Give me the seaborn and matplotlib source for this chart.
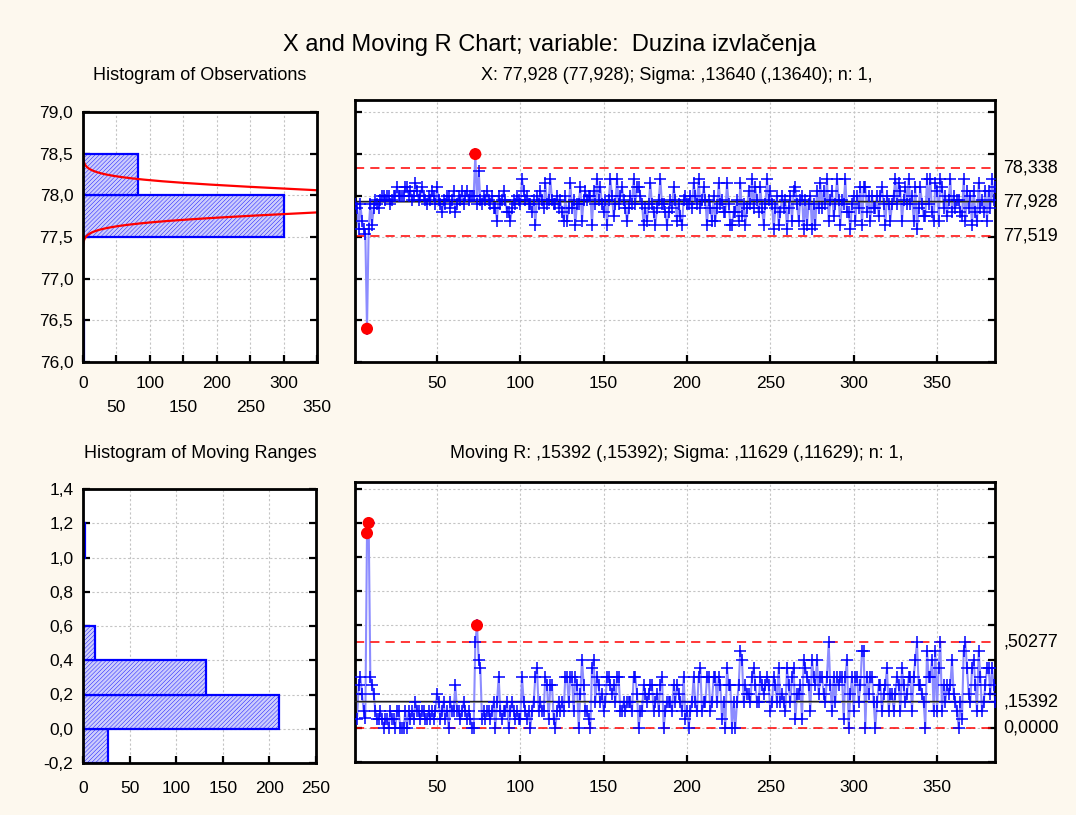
import numpy as np
import pandas as pd
import matplotlib
matplotlib.use("Agg")
import matplotlib.pyplot as plt
import matplotlib.transforms as mtransforms
from matplotlib.ticker import MultipleLocator, FixedLocator, FuncFormatter
import seaborn as sns

# Individual observations of "Duzina izvlačenja", in sample order
duzina_izvlacenja = [
    77.90, 77.85, 77.60, 77.90, 77.70, 77.60, 77.54, 76.40, 77.60, 77.90,
    77.65, 77.85, 77.95, 77.90, 77.85, 77.95, 78.00, 78.00, 77.95, 78.00,
    78.00, 77.90, 77.95, 78.00, 78.00, 78.10, 78.00, 78.00, 78.00, 78.00,
    78.10, 78.10, 78.00, 78.05, 77.95, 78.00, 78.15, 78.05, 77.95, 78.00,
    78.10, 78.00, 77.95, 77.90, 78.00, 77.95, 78.05, 78.00, 77.90, 78.10,
    77.95, 77.90, 77.80, 77.95, 77.90, 78.00, 78.00, 77.85, 77.95, 78.05,
    77.80, 77.90, 78.00, 77.95, 78.05, 77.90, 78.00, 78.05, 77.95, 78.00,
    78.00, 78.00, 78.50, 77.90, 78.30, 77.95, 77.90, 78.00, 77.95, 78.05,
    77.95, 77.90, 78.00, 77.85, 77.85, 77.70, 78.00, 77.90, 77.95, 78.05,
    77.95, 77.80, 77.80, 77.70, 77.85, 77.95, 77.90, 78.00, 77.95, 77.90,
    78.20, 78.05, 77.95, 78.00, 77.90, 77.90, 77.80, 77.95, 77.65, 78.00,
    77.90, 78.05, 77.95, 77.85, 78.15, 77.90, 77.95, 78.20, 77.95, 77.90,
    77.90, 78.00, 77.85, 77.95, 77.80, 77.70, 78.00, 77.70, 77.85, 78.15,
    77.85, 77.95, 77.65, 77.90, 77.90, 78.10, 77.70, 77.95, 78.05, 77.95,
    78.00, 78.00, 77.65, 78.05, 77.90, 78.20, 77.95, 78.10, 77.90, 77.80,
    77.95, 77.65, 77.95, 78.20, 78.00, 77.75, 77.90, 78.20, 77.90, 78.00,
    78.10, 77.95, 77.85, 77.70, 77.85, 78.00, 77.90, 78.20, 77.90, 78.10,
    78.10, 78.00, 77.90, 77.65, 77.85, 77.70, 77.90, 78.15, 77.90, 77.80,
    77.65, 77.85, 77.95, 78.20, 77.90, 77.90, 77.80, 77.65, 77.80, 77.95,
    77.85, 78.10, 77.95, 77.70, 77.90, 77.75, 77.65, 77.95, 78.00, 77.90,
    77.90, 78.00, 77.85, 78.15, 78.00, 77.90, 78.20, 77.85, 77.95, 78.10,
    77.95, 77.65, 77.95, 77.85, 77.70, 78.00, 77.70, 77.85, 78.15, 77.90,
    77.95, 77.80, 77.80, 78.15, 77.90, 77.65, 77.65, 77.80, 77.80, 77.95,
    77.70, 78.15, 77.75, 77.90, 77.65, 77.85, 78.05, 77.90, 78.20, 77.85,
    78.10, 77.95, 77.80, 78.10, 77.85, 77.65, 77.90, 78.20, 77.95, 78.05,
    77.90, 77.60, 77.85, 78.00, 77.65, 77.80, 78.00, 77.85, 77.95, 77.60,
    77.85, 78.00, 77.70, 78.05, 78.10, 77.90, 77.70, 77.95, 78.00, 77.60,
    77.95, 77.65, 77.90, 78.00, 77.60, 77.90, 77.65, 78.05, 77.85, 78.15,
    77.85, 78.05, 77.90, 78.20, 77.70, 77.95, 78.05, 77.75, 77.90, 78.20,
    77.95, 77.65, 77.95, 77.90, 78.20, 77.80, 77.80, 77.60, 77.90, 78.00,
    77.70, 78.00, 77.85, 78.10, 77.65, 78.10, 78.10, 77.80, 78.00, 77.70,
    78.00, 77.85, 77.85, 78.00, 77.75, 78.00, 78.10, 77.90, 77.65, 78.00,
    77.90, 77.70, 77.90, 78.00, 78.20, 77.90, 78.15, 78.05, 77.70, 77.95,
    78.10, 77.90, 78.20, 77.90, 78.00, 77.70, 78.10, 77.60, 77.85, 78.10,
    77.90, 77.75, 77.75, 78.20, 77.90, 78.20, 77.80, 77.70, 78.15, 78.05,
    77.70, 78.20, 78.10, 77.85, 78.00, 77.75, 77.95, 78.20, 77.80, 78.00,
    77.85, 77.95, 77.95, 77.80, 77.75, 78.20, 77.70, 78.05, 77.85, 78.00,
    77.65, 78.05, 77.80, 77.70, 78.15, 77.85, 77.95, 77.80, 78.05, 77.70,
    78.05, 77.85, 78.20, 77.95, 78.10,
]

# Control chart parameters
x_center, x_ucl, x_lcl = 77.928, 78.338, 77.519
x_sigma = 0.13640
mr_center, mr_ucl, mr_lcl = 0.15392, 0.50277, 0.0

x_limit_labels = ["78,338", "77,928", "77,519"]
mr_limit_labels = [",50277", ",15392", "0,0000"]

obs_bin_edges = [76.0, 76.5, 77.0, 77.5, 78.0, 78.5, 79.0]
mr_bin_edges = [-0.2, 0.0, 0.2, 0.4, 0.6, 0.8, 1.0, 1.2, 1.4]

title = "X and Moving R Chart; variable:  Duzina izvlačenja"
x_subtitle = "X: 77,928 (77,928); Sigma: ,13640 (,13640); n: 1,"
mr_subtitle = "Moving R: ,15392 (,15392); Sigma: ,11629 (,11629); n: 1,"

# ---------------------------------------------------------------------------
obs = np.asarray(duzina_izvlacenja)
n_obs = len(obs)
sample = np.arange(1, n_obs + 1)
mr = np.round(np.abs(np.diff(obs)), 4)
mr_sample = sample[1:]

x_df = pd.DataFrame({"sample": sample, "value": obs})
mr_df = pd.DataFrame({"sample": mr_sample, "value": mr})

sns.set_theme(style="white")
plt.rcParams["font.family"] = ["Liberation Sans", "DejaVu Sans"]
plt.rcParams["hatch.linewidth"] = 0.3
for key in ["text.color", "axes.labelcolor", "xtick.color", "ytick.color"]:
    plt.rcParams[key] = "black"

BG = "#fdf8ee"
BAR_FACE = "#cdcdfc"
BLUE = "#0000ff"
LINE_BLUE = "#8c8cff"
GRID = "#c4c4c4"

W, H = 1076, 815
fig = plt.figure(figsize=(W / 100, H / 100), dpi=100, facecolor=BG)


def panel(left, top, right, bottom):
    return fig.add_axes([left / W, 1 - bottom / H, (right - left) / W, (bottom - top) / H])


def comma(fmt):
    return FuncFormatter(lambda v, p: format(v, fmt).replace(".", ","))


def frame(ax):
    ax.set_facecolor("white")
    for s in ax.spines.values():
        s.set_visible(True)
        s.set_color("black")
        s.set_linewidth(2)
    ax.grid(True, linestyle=(0, (2, 2)), color=GRID, linewidth=0.8)
    ax.set_axisbelow(True)
    ax.tick_params(direction="in", length=5, width=1.6, colors="black",
                   labelsize=12.5, left=True, right=True, bottom=True, top=False)
    ax.tick_params(axis="x", pad=10)
    ax.tick_params(axis="y", pad=7)
    ax.set_xlabel("")
    ax.set_ylabel("")


def hatch_bars(ax):
    for p in ax.patches:
        p.set_hatch("////////")
        p.set_facecolor(BAR_FACE)
        p.set_edgecolor(BLUE)
        p.set_linewidth(1.6)


def binned(values, edges):
    cats = pd.cut(pd.Series(values), bins=edges, right=True)
    counts = cats.value_counts(sort=False).reindex(cats.cat.categories).fillna(0).to_numpy()
    centers = (np.asarray(edges[:-1]) + np.asarray(edges[1:])) / 2
    return centers, counts


# ---------------- histogram of observations ----------------
ax_h1 = panel(83, 112, 317, 362)
c1, n1 = binned(obs, obs_bin_edges)
sns.histplot(y=c1, weights=n1, bins=obs_bin_edges, ax=ax_h1, color=BAR_FACE,
             edgecolor=BLUE, alpha=1)
hatch_bars(ax_h1)
yy = np.linspace(76.0, 79.0, 600)
bw = obs_bin_edges[1] - obs_bin_edges[0]
xx = n_obs * bw * np.exp(-0.5 * ((yy - x_center) / x_sigma) ** 2) / (x_sigma * np.sqrt(2 * np.pi))
sns.lineplot(x=xx, y=yy, sort=False, estimator=None, color="red", linewidth=1.6, ax=ax_h1)
ax_h1.set_xlim(0, 350)
ax_h1.set_ylim(76.0, 79.0)
frame(ax_h1)
ax_h1.yaxis.set_major_locator(MultipleLocator(0.5))
ax_h1.yaxis.set_major_formatter(comma(".1f"))
ax_h1.set_xticks(np.arange(0, 351, 50))
ax_h1.set_xticklabels([f"{v}" if v % 100 == 0 else f"\n{v}" for v in range(0, 351, 50)])
for t in ax_h1.get_xticklabels():
    t.set_linespacing(1.75)

# ---------------- X chart ----------------
ax_x = panel(355, 100, 995, 362)
sns.lineplot(data=x_df, x="sample", y="value", color=LINE_BLUE, linewidth=1.5,
             estimator=None, ax=ax_x)
sns.scatterplot(data=x_df, x="sample", y="value", marker="+", color=BLUE, s=75,
                linewidth=1.1, ax=ax_x, zorder=3)
for v in [x_ucl, x_lcl]:
    ax_x.axhline(v, color="red", linestyle=(0, (6, 4)), linewidth=1.1, zorder=2)
ax_x.axhline(x_center, color="#8a8a8a", linewidth=1.2, zorder=2.5)
ax_x.axhline(x_center + 0.01, color="#202020", linewidth=1.0, zorder=2.6)
x_out = x_df[(x_df.value > x_ucl) | (x_df.value < x_lcl)]
sns.scatterplot(data=x_out, x="sample", y="value", color="red", s=75,
                edgecolor="none", ax=ax_x, zorder=4)
ax_x.set_xlim(0.8, n_obs - 0.2)
ax_x.set_ylim(76.0, 79.15)
frame(ax_x)
ax_x.xaxis.set_major_locator(FixedLocator(np.arange(50, 351, 50)))
ax_x.yaxis.set_major_locator(MultipleLocator(0.5))
ax_x.tick_params(labelleft=False)
tr = mtransforms.blended_transform_factory(ax_x.transAxes, ax_x.transData)
for v, lab in zip([x_ucl, x_center, x_lcl], x_limit_labels):
    ax_x.text(1.013, v, lab, transform=tr, ha="left", va="center", fontsize=13)

# ---------------- histogram of moving ranges ----------------
ax_h2 = panel(83, 489, 316, 763)
c2, n2 = binned(mr, mr_bin_edges)
sns.histplot(y=c2, weights=n2, bins=mr_bin_edges, ax=ax_h2, color=BAR_FACE,
             edgecolor=BLUE, alpha=1)
hatch_bars(ax_h2)
ax_h2.set_xlim(0, 250)
ax_h2.set_ylim(-0.2, 1.4)
frame(ax_h2)
ax_h2.tick_params(axis="x", pad=13)
ax_h2.xaxis.set_major_locator(MultipleLocator(50))
ax_h2.yaxis.set_major_locator(MultipleLocator(0.2))
ax_h2.yaxis.set_major_formatter(comma(".1f"))

# ---------------- moving range chart ----------------
ax_mr = panel(355, 482, 995, 762)
sns.lineplot(data=mr_df, x="sample", y="value", color=LINE_BLUE, linewidth=1.5,
             estimator=None, ax=ax_mr)
sns.scatterplot(data=mr_df, x="sample", y="value", marker="+", color=BLUE, s=75,
                linewidth=1.1, ax=ax_mr, zorder=3)
for v in [mr_ucl, mr_lcl]:
    ax_mr.axhline(v, color="red", linestyle=(0, (6, 4)), linewidth=1.1, zorder=2)
ax_mr.axhline(mr_center, color="#8a8a8a", linewidth=1.2, zorder=2.5)
ax_mr.axhline(mr_center + 0.006, color="#202020", linewidth=1.0, zorder=2.6)
mr_out = mr_df[mr_df.value > mr_ucl]
sns.scatterplot(data=mr_out, x="sample", y="value", color="red", s=75,
                edgecolor="none", ax=ax_mr, zorder=4)
ax_mr.set_xlim(0.8, n_obs - 0.2)
ax_mr.set_ylim(-0.2, 1.44)
frame(ax_mr)
ax_mr.tick_params(axis="x", pad=13)
ax_mr.xaxis.set_major_locator(FixedLocator(np.arange(50, 351, 50)))
ax_mr.yaxis.set_major_locator(MultipleLocator(0.2))
ax_mr.tick_params(labelleft=False)
tr2 = mtransforms.blended_transform_factory(ax_mr.transAxes, ax_mr.transData)
for v, lab in zip([mr_ucl, mr_center, mr_lcl], mr_limit_labels):
    ax_mr.text(1.013, v, lab, transform=tr2, ha="left", va="center", fontsize=13)

# ---------------- titles ----------------
fig.text(550 / W, 1 - 45 / H, title, ha="center", va="center", fontsize=17)
fig.text(200 / W, 1 - 76 / H, "Histogram of Observations", ha="center", va="center", fontsize=13)
fig.text(677 / W, 1 - 76 / H, x_subtitle, ha="center", va="center", fontsize=13)
fig.text(200 / W, 1 - 453 / H, "Histogram of Moving Ranges", ha="center", va="center", fontsize=13)
fig.text(677 / W, 1 - 453 / H, mr_subtitle, ha="center", va="center", fontsize=13)

fig.savefig("out.png", dpi=100, facecolor=BG)
